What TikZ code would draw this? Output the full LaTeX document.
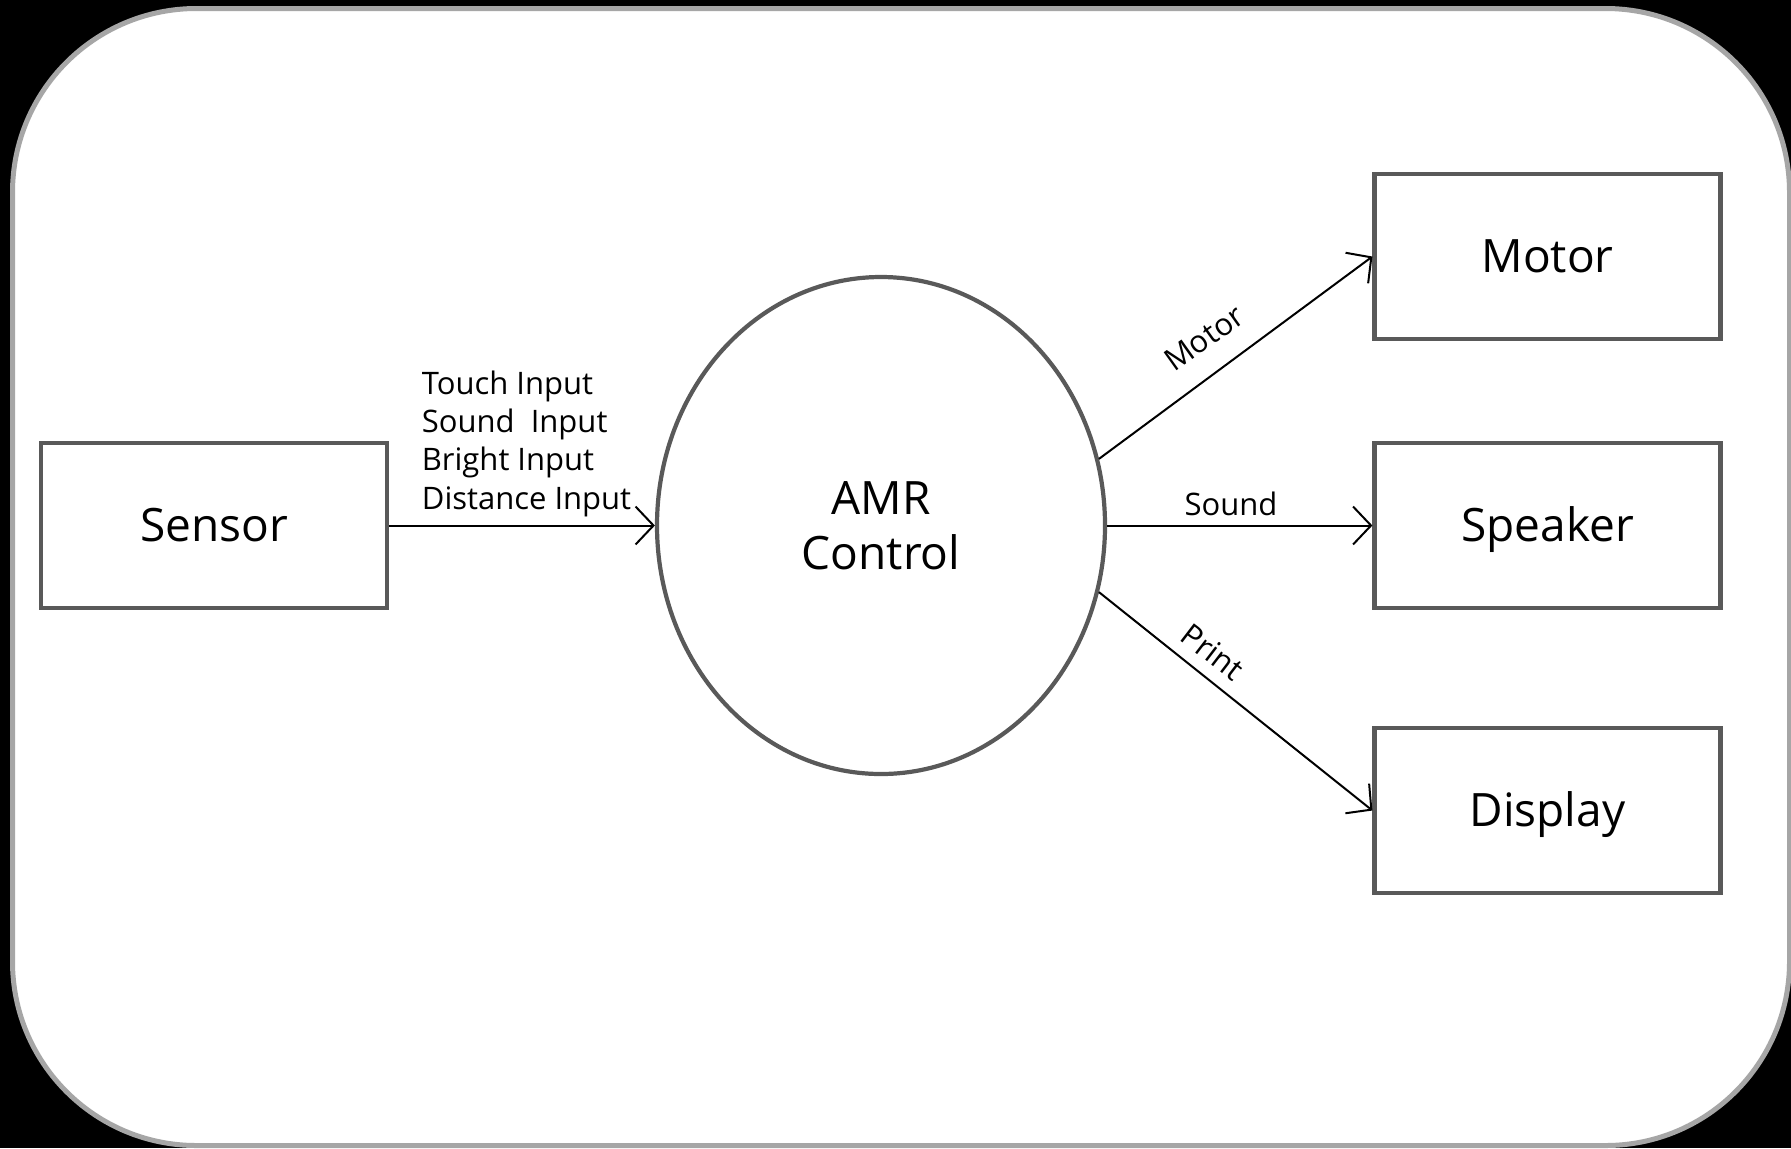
\documentclass[tikz,border=0pt]{standalone}
\usepackage{fontspec}
\setmainfont{Open Sans}
\usetikzlibrary{arrows.meta,shapes.geometric}
\definecolor{boxgray}{HTML}{595959}
\definecolor{framegray}{HTML}{A6A6A6}
\begin{document}
\begin{tikzpicture}[x=0.5pt,y=-0.5pt,
  box/.style={draw=boxgray,line width=2.1pt,fill=white,minimum width=173pt,minimum height=82.5pt,inner sep=0pt,
    font=\fontsize{23}{27.5}\selectfont,text height=16.4pt,text depth=0pt},
  proc/.style={ellipse,draw=boxgray,line width=2.1pt,minimum width=224pt,minimum height=248.5pt,inner sep=0pt,
    align=center,font=\fontsize{23}{27.5}\selectfont},
  lbl/.style={inner sep=0pt,font=\fontsize{15.5}{19}\selectfont},
  arr/.style={line width=1pt,-{Straight Barb[length=9pt,width=19pt,line width=1pt]}}]
\useasboundingbox (0,0) rectangle (1791,1148);
\fill[black] (0,0) rectangle (1791,1148);
\draw[draw=framegray,line width=2.5pt,fill=white,rounded corners=92pt] (12.5,8.5) rectangle (1789.5,1145.5);

\node[box] (sensor) at (214,525.5) {Sensor};
\node[proc] (amr) at (881,525.5) {AMR\\Control};
\node[box] (motor) at (1547.5,256.5) {Motor};
\node[box] (speaker) at (1547.5,525.5) {Speaker};
\node[box] (display) at (1547.5,810.5) {Display};

\draw[arr] (sensor.east) -- (amr.west);
\draw[arr] (amr.east) -- (speaker.west);
\draw[arr] (amr.17) -- (motor.west);
\draw[arr] (amr.-17) -- (display.west);

\node[lbl,anchor=base west] (l1) at (421.5,394) {Touch Input};
\node[lbl,anchor=base west] (l2) at (421.5,432.3) {Sound\ \ Input};
\node[lbl,anchor=base west] (l3) at (421.5,470.6) {Bright Input};
\node[lbl,anchor=base west] (l4) at (421.5,509) {Distance Input};
\node[lbl,anchor=base] (lsound) at (1231,515) {Sound};
\node[lbl,rotate=35.5] (lmotor) at (1204,338) {Motor};
\node[lbl,rotate=-37.5] (lprint) at (1213,652) {Print};
\end{tikzpicture}
\end{document}
